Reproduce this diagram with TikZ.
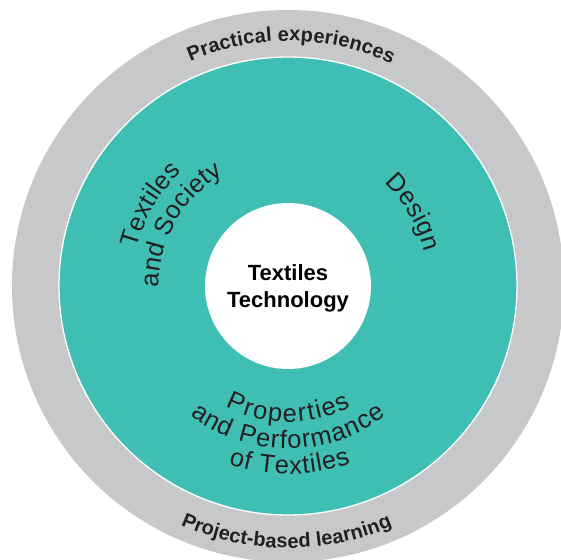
\documentclass[tikz,border=0pt]{standalone}
\usepackage{fontspec}
\setmainfont{Liberation Sans}
\usetikzlibrary{decorations.text}
\definecolor{ringgray}{HTML}{C7C8CA}
\definecolor{teal}{HTML}{3FBFB4}
\definecolor{ink}{HTML}{231F20}
\newcommand\outerfont{\fontsize{20}{24}\selectfont\bfseries\color{ink}}
\newcommand\innerfont{\fontsize{25.5}{30}\selectfont\color{ink}}
\tikzset{
  curvetext/.style args={#1/#2}{decorate, decoration={text along path, text={|#2|#1}, text align={fit to path}}},
  ring/.style={circle, inner sep=0pt, draw=none},
  centertext/.style={anchor=base, font=\fontsize{22}{26}\selectfont\bfseries, text=black, inner sep=0pt}
}
\begin{document}
\begin{tikzpicture}[x=1pt,y=1pt]
\clip (-288,-273) rectangle (273,286);
\fill[white] (-288,-273) rectangle (273,286);
\node[ring, fill=ringgray, minimum size=552pt] (outer) at (0,0) {};
\node[ring, fill=teal, draw=white, line width=1.3pt, minimum size=458pt] (mid) at (0,0) {};
\node[ring, fill=white, minimum size=166pt] (core) at (0,0) {};
\node[centertext] (t1) at (0,6) {Textiles};
\node[centertext] (t2) at (0,-21) {Technology};
% outer ring texts
\path[curvetext={Practical experiences/\outerfont}] (113.5:245) arc[start angle=113.5, end angle=65, radius=245];
\path[curvetext={Project-based learning/\outerfont}] (245.8:262) arc[start angle=245.8, end angle=293.5, radius=262];
% inner ring texts
\path[curvetext={Textiles/\innerfont}] (166:156) arc[start angle=166, end angle=133, radius=156];
\path[curvetext={and Society/\innerfont}] (180.5:129) arc[start angle=180.5, end angle=120, radius=129];
\path[curvetext={Design/\innerfont}] (47:141) arc[start angle=47, end angle=14, radius=141];
\path[curvetext={Properties/\innerfont}] (242.5:136) arc[start angle=242.5, end angle=297.5, radius=136];
\path[curvetext={and Performance/\innerfont}] (233:162.5) arc[start angle=233, end angle=307, radius=162.5];
\path[curvetext={of Textiles/\innerfont}] (251.5:188) arc[start angle=251.5, end angle=289.5, radius=188];
\end{tikzpicture}
\end{document}
